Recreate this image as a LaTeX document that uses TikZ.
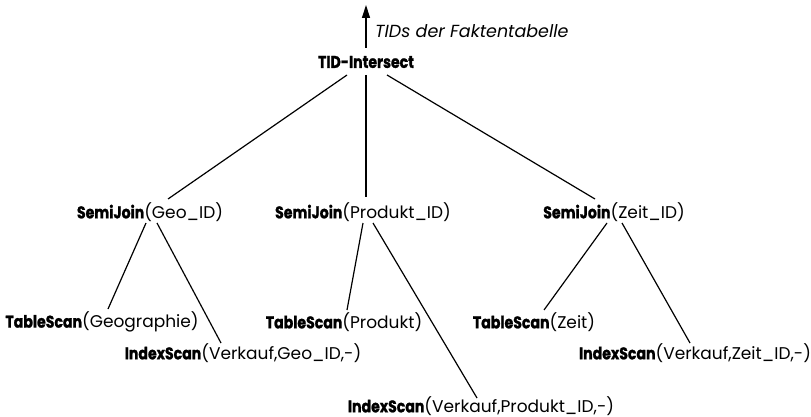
\documentclass[tikz,border=0pt]{standalone}
\usepackage{fontspec}
\setmainfont{Poppins}[BoldFeatures={FakeStretch=0.83,FakeBold=1.2}]
\usetikzlibrary{arrows.meta}
\begin{document}
\begin{tikzpicture}[x=1pt,y=-1pt,
  every node/.style={inner sep=0pt,font=\fontsize{17}{19}\selectfont},
  lbl/.style={anchor=center},
  edge/.style={line width=1.2pt}]
\useasboundingbox (0,0) rectangle (811,417);
\node[lbl] (tid) at (366,62) {\textbf{TID-Intersect}};
\node[anchor=west,font=\fontsize{17.5}{19}\selectfont] (cap) at (375,31) {\textit{TIDs der Faktentabelle}};
\node[lbl] (sj1) at (150,212) {\textbf{SemiJoin}(Geo\_ID)};
\node[lbl] (sj2) at (363,212) {\textbf{SemiJoin}(Produkt\_ID)};
\node[lbl] (sj3) at (614,212) {\textbf{SemiJoin}(Zeit\_ID)};
\node[lbl] (ts1) at (102,322) {\textbf{TableScan}(Geographie)};
\node[lbl] (ts2) at (344,322) {\textbf{TableScan}(Produkt)};
\node[lbl] (ts3) at (534,322) {\textbf{TableScan}(Zeit)};
\node[lbl] (is1) at (243,353) {\textbf{IndexScan}(Verkauf,Geo\_ID,-)};
\node[lbl] (is2) at (695,353) {\textbf{IndexScan}(Verkauf,Zeit\_ID,-)};
\node[lbl] (is3) at (481,406) {\textbf{IndexScan}(Verkauf,Produkt\_ID,-)};
\coordinate (top) at (366,5);
\draw[edge,-{Triangle[length=13pt,width=8pt]}] ([shift={(0,-14)}]tid.center) -- (top);
\draw[edge] ([shift={(-19,13)}]tid.center) -- ([shift={(18,-13)}]sj1.center);
\draw[edge] ([shift={(0,13)}]tid.center) -- ([shift={(3,-15)}]sj2.center);
\draw[edge] ([shift={(21,13)}]tid.center) -- ([shift={(-19,-13)}]sj3.center);
\draw[edge] ([shift={(-4,11)}]sj1.center) -- ([shift={(6,-13)}]ts1.center);
\draw[edge] ([shift={(7,11)}]sj1.center) -- ([shift={(-22,-10)}]is1.center);
\draw[edge] ([shift={(0,11)}]sj2.center) -- ([shift={(3,-12)}]ts2.center);
\draw[edge] ([shift={(10,11)}]sj2.center) -- ([shift={(-4,-8)}]is3.center);
\draw[edge] ([shift={(-7,11)}]sj3.center) -- ([shift={(10,-12)}]ts3.center);
\draw[edge] ([shift={(8,11)}]sj3.center) -- ([shift={(-5,-10)}]is2.center);
\end{tikzpicture}
\end{document}
